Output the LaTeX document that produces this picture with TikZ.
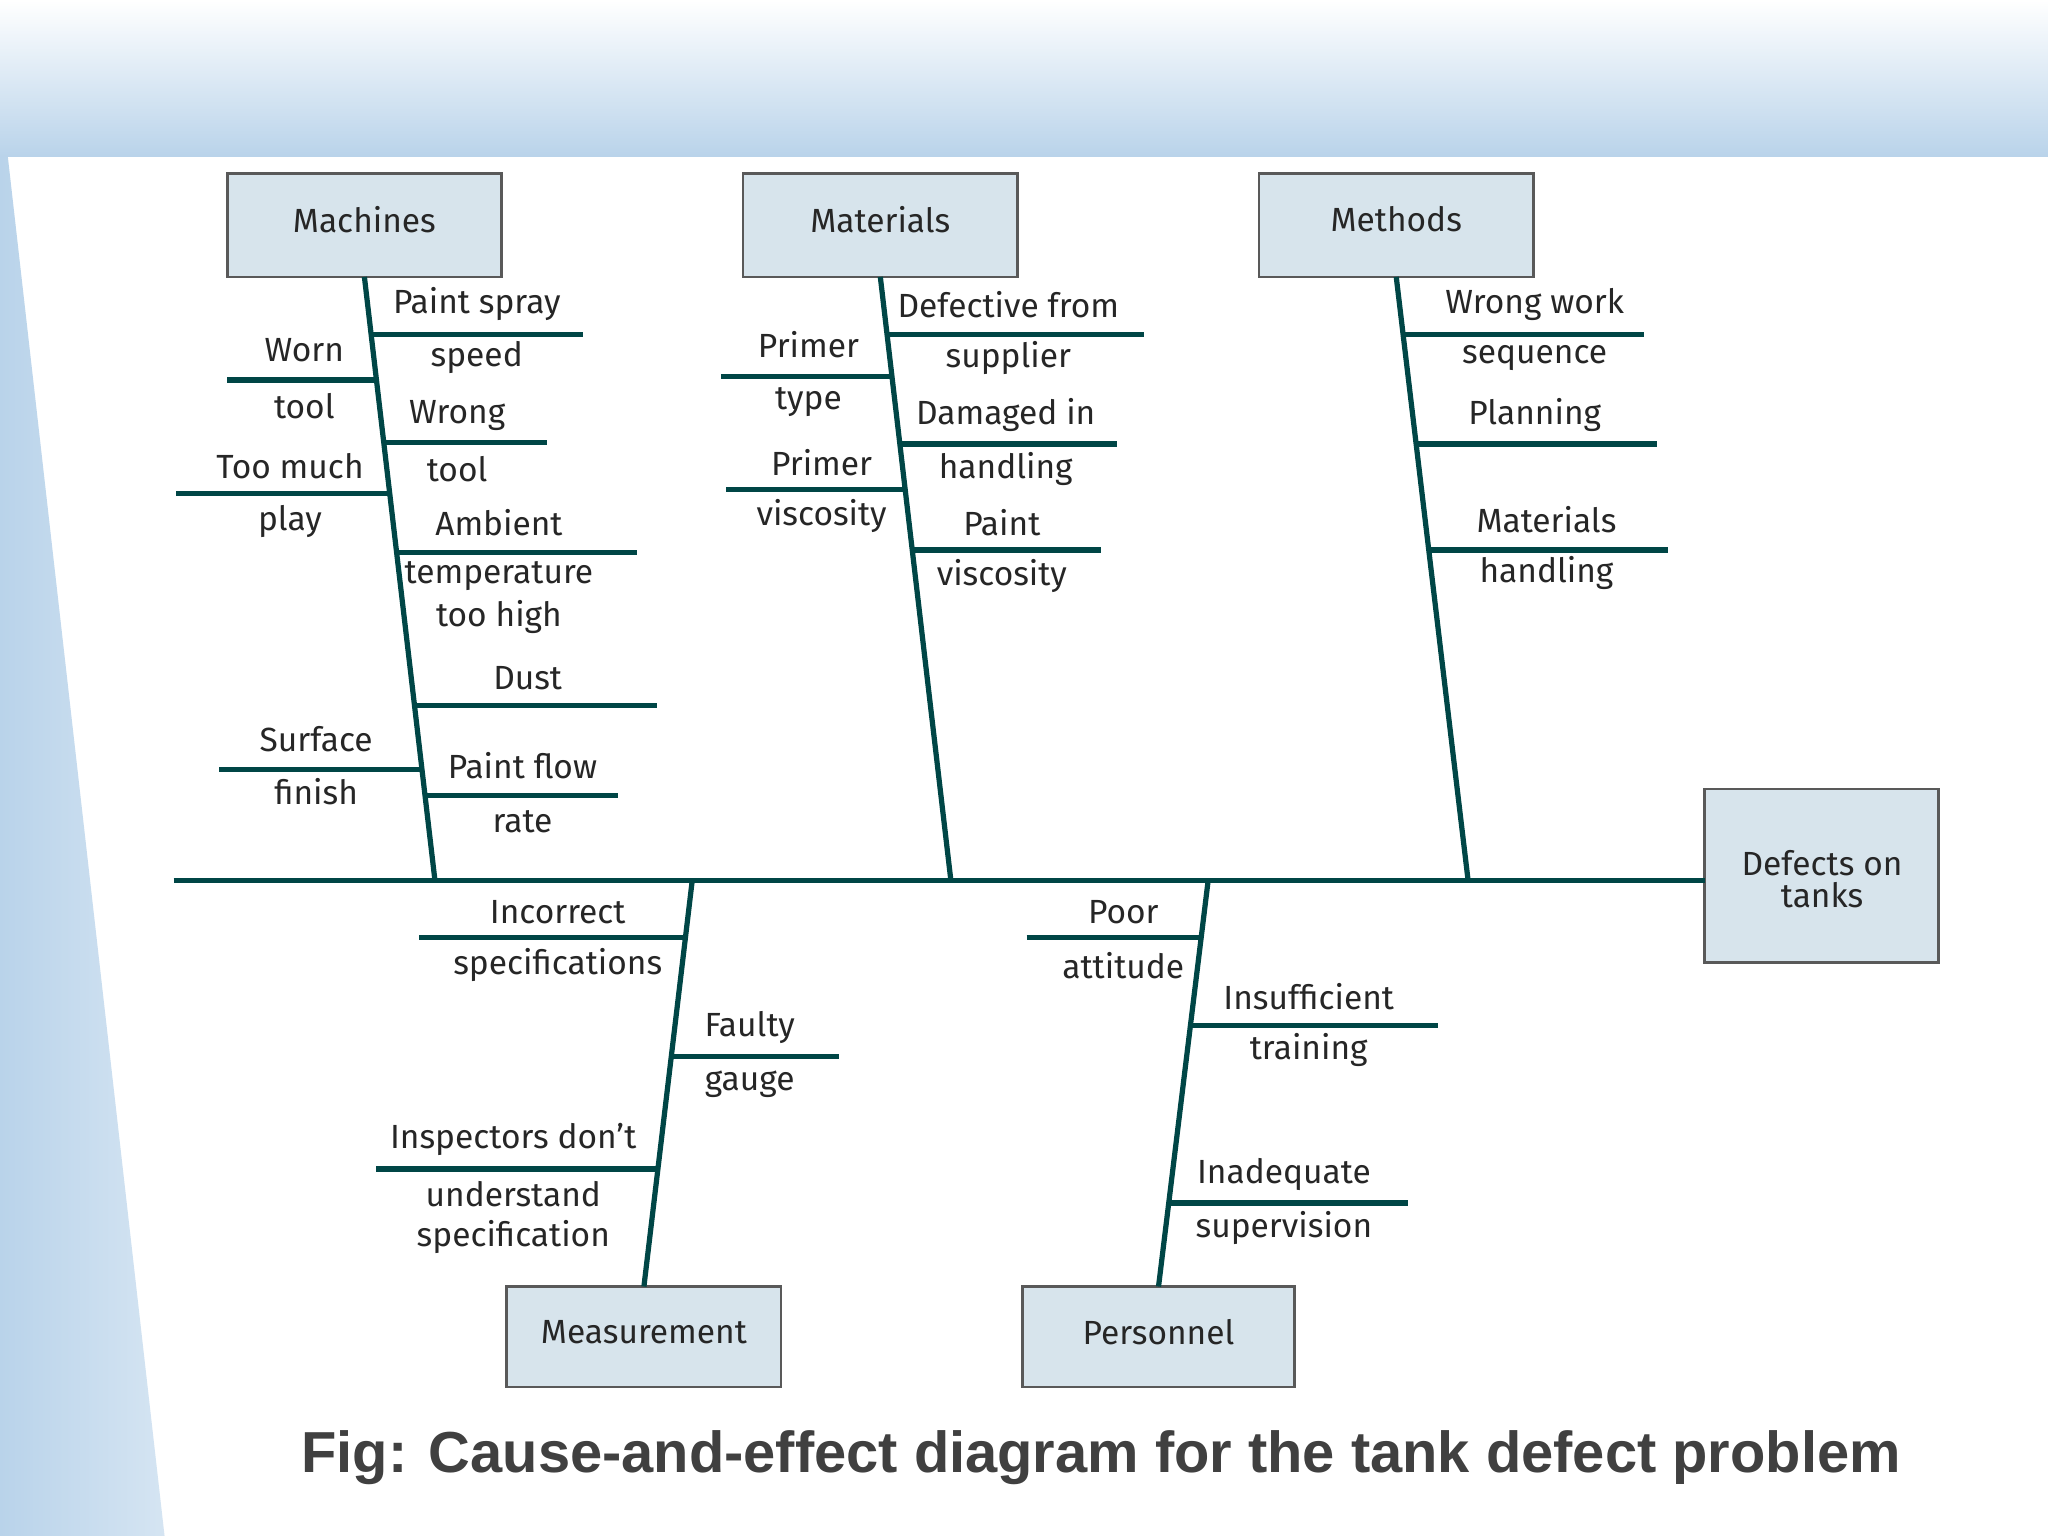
\documentclass[tikz,border=0pt]{standalone}
\usepackage{fontspec}
\setmainfont{Fira Sans}
\newfontfamily\capfont{Liberation Sans}
\begin{document}
\begin{tikzpicture}[x=0.1mm,y=-0.1mm,
  bone/.style={draw=teal!55!black,line width=0.4mm},
  cbox/.style={draw=black!65,line width=0.2mm,fill=boxc},
  lbl/.style={font=\fontsize{7.3}{8}\selectfont,text=black!85,inner sep=0pt}]
\definecolor{boxc}{HTML}{D7E4EC}
\definecolor{bgb}{HTML}{B9D3EA}
\useasboundingbox (0,0) rectangle (1568,1176);
\fill[white] (0,0) rectangle (1568,1176);
\shade[top color=white,bottom color=bgb] (0,0) rectangle (1568,120);
\shade[left color=bgb,right color=bgb!60] (0,120) -- (6,120) -- (126,1176) -- (0,1176) -- cycle;
% boxes
\path[cbox] (174,133) rectangle (384,212); \node[lbl] (mach) at (279,168) {Machines};
\path[cbox] (569,133) rectangle (779,212); \node[lbl] (mat) at (674,168) {Materials};
\path[cbox] (964,133) rectangle (1174,212); \node[lbl] (meth) at (1069,168) {Methods};
\path[cbox] (388,985) rectangle (598,1062); \node[lbl] (meas) at (493,1020) {Measurement};
\path[cbox] (783,985) rectangle (991,1062); \node[lbl] (pers) at (887,1020) {Personnel};
\path[cbox] (1305,604) rectangle (1484,737);
\node[lbl,align=center] (eff) at (1395,673) {Defects on\\[-1pt]tanks};
% spines
\coordinate (s0) at (133,674); \coordinate (s1) at (1305,674);
\draw[bone] (s0) -- (s1);
\draw[bone] (279,212) -- (333,674);
\draw[bone] (674,212) -- (728,674);
\draw[bone] (1069,212) -- (1124,674);
\draw[bone] (530,674) -- (493,985);
\draw[bone] (925,674) -- (887,985);
% machines
\draw[bone] (284.1,256) -- (446,256);
\draw[bone] (174,291) -- (288.2,291);
\draw[bone] (293.8,339) -- (419,339);
\draw[bone] (135,378) -- (298.4,378);
\draw[bone] (303.7,423) -- (488,423);
\draw[bone] (317.3,540) -- (503,540);
\draw[bone] (168,589) -- (323.1,589);
\draw[bone] (325.4,609) -- (473,609);
\node[lbl] at (365,233) {Paint spray}; \node[lbl] at (365,274) {speed};
\node[lbl] at (233,268) {Worn}; \node[lbl] at (233,311) {tool};
\node[lbl] at (350,318) {Wrong}; \node[lbl] at (350,359) {tool};
\node[lbl] at (222,357) {Too much}; \node[lbl] at (222,399) {play};
\node[lbl] at (382,400) {Ambient}; \node[lbl] at (382,441) {temperature}; \node[lbl] at (382,472) {too high};
\node[lbl] at (404,519) {Dust};
\node[lbl] at (242,566) {Surface}; \node[lbl] at (242,606) {finish};
\node[lbl] at (400,586) {Paint flow}; \node[lbl] at (400,629) {rate};
% materials
\draw[bone] (679.1,256) -- (876,256);
\draw[bone] (552,288) -- (682.9,288);
\draw[bone] (689,340) -- (855,340);
\draw[bone] (556,375) -- (693,375);
\draw[bone] (698.7,421) -- (843,421);
\node[lbl] at (772,233) {Defective from}; \node[lbl] at (772,274) {supplier};
\node[lbl] at (619,264) {Primer}; \node[lbl] at (619,308) {type};
\node[lbl] at (770,318) {Damaged in}; \node[lbl] at (770,359) {handling};
\node[lbl] at (629,354) {Primer}; \node[lbl] at (629,395) {viscosity};
\node[lbl] at (767,400) {Paint}; \node[lbl] at (767,441) {viscosity};
% methods
\draw[bone] (1074.2,256) -- (1259,256);
\draw[bone] (1084.2,340) -- (1269,340);
\draw[bone] (1093.9,421) -- (1277,421);
\node[lbl] at (1175,233) {Wrong work}; \node[lbl] at (1175,274) {sequence};
\node[lbl] at (1175,318) {Planning};
\node[lbl] at (1184,398) {Materials}; \node[lbl] at (1184,439) {handling};
% measurement
\draw[bone] (321,718) -- (524.8,718);
\draw[bone] (513.9,809) -- (642,809);
\draw[bone] (288,895) -- (503.7,895);
\node[lbl] at (427,698) {Incorrect}; \node[lbl] at (427,739) {specifications};
\node[lbl] at (574,787) {Faulty}; \node[lbl] at (574,830) {gauge};
\node[lbl] at (393,872) {Inspectors don't}; \node[lbl] at (393,914) {understand}; \node[lbl] at (393,947) {specification};
% personnel
\draw[bone] (786,718) -- (919.6,718);
\draw[bone] (911.4,785) -- (1101,785);
\draw[bone] (894.8,921) -- (1078,921);
\node[lbl] at (860,698) {Poor}; \node[lbl] at (860,739) {attitude};
\node[lbl] at (1002,763) {Insufficient}; \node[lbl] at (1002,804) {training};
\node[lbl] at (983,899) {Inadequate}; \node[lbl] at (983,940) {supervision};
% caption
\node[inner sep=0pt,text=black!75,font=\capfont\bfseries\fontsize{12.6}{14}\selectfont] (cap) at (843,1116) {Fig: Cause-and-effect diagram for the tank defect problem};
\end{tikzpicture}
\end{document}
